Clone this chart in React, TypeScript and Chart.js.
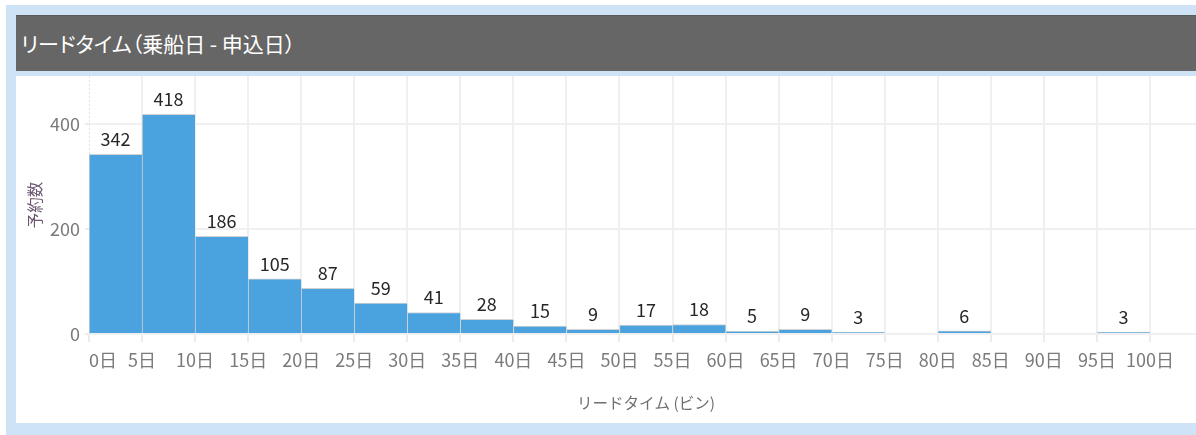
import React, { useEffect, useRef } from 'react';
import { Chart, registerables } from 'chart.js';

Chart.register(...registerables);

// ---- data ----
const binStarts = [0, 5, 10, 15, 20, 25, 30, 35, 40, 45, 50, 55, 60, 65, 70, 75, 80, 85, 90, 95];
const counts: (number | null)[] = [342, 418, 186, 105, 87, 59, 41, 28, 15, 9, 17, 18, 5, 9, 3, null, 6, null, null, 3];
const binWidth = 5;
const xTickValues = [0, 5, 10, 15, 20, 25, 30, 35, 40, 45, 50, 55, 60, 65, 70, 75, 80, 85, 90, 95, 100, 105];
const xTickLabels = ['0日', '5日', '10日', '15日', '20日', '25日', '30日', '35日', '40日', '45日', '50日', '55日', '60日', '65日', '70日', '75日', '80日', '85日', '90日', '95日', '100日', ''];
const yTickValues = [0, 200, 400];
const yMax = 491;
const xMax = 105;
const PANEL_TITLE = 'リードタイム（乗船日 - 申込日）';
const X_TITLE = 'リードタイム (ビン)';
const Y_TITLE = '予約数';

const NUM_FONT = "'Noto Sans CJK JP', sans-serif";
const JP_FONT = "'Noto Sans CJK JP', sans-serif";

const valueLabels = {
  id: 'valueLabels',
  afterDatasetsDraw(chart: any) {
    const { ctx } = chart;
    const meta = chart.getDatasetMeta(0);
    ctx.save();
    ctx.font = `18px ${NUM_FONT}`;
    ctx.fillStyle = '#262626';
    ctx.textAlign = 'center';
    ctx.textBaseline = 'bottom';
    meta.data.forEach((el: any, i: number) => {
      const v = counts[i];
      if (v == null) return;
      ctx.fillText(String(v), el.x, el.y - 6);
    });
    ctx.restore();
  },
};

const axisDecor = {
  id: 'axisDecor',
  beforeDraw(chart: any) {
    const sc = chart.scales.x;
    const items = sc.getLabelItems(chart.chartArea);
    if (items && items[0]) {
      items[0].options.textAlign = 'left';
    }
  },
  beforeDatasetsDraw(chart: any) {
    const { ctx, chartArea } = chart;
    const x0 = Math.round(chart.scales.x.getPixelForValue(0)) + 0.5;
    ctx.save();
    ctx.strokeStyle = '#e2e2e2';
    ctx.lineWidth = 1;
    ctx.setLineDash([2, 2]);
    ctx.beginPath();
    ctx.moveTo(x0, chartArea.top);
    ctx.lineTo(x0, chartArea.bottom);
    ctx.stroke();
    ctx.restore();
  },
};

export default function App() {
  const ref = useRef<HTMLCanvasElement | null>(null);

  useEffect(() => {
    if (!ref.current) return;
    const chart = new Chart(ref.current, {
      type: 'bar',
      data: {
        datasets: [
          {
            label: Y_TITLE,
            data: binStarts.map((s, i) => ({ x: s + binWidth / 2, y: counts[i] })) as any,
            backgroundColor: '#4aa2df',
            borderColor: '#d2d2d2',
            borderWidth: { top: 1, left: 1, right: 0, bottom: 0 } as any,
            borderSkipped: false as any,
            barPercentage: 1,
            categoryPercentage: 1,
          },
        ],
      },
      options: {
        animation: false,
        responsive: true,
        maintainAspectRatio: false,
        layout: { padding: 0 },
        plugins: {
          legend: { display: false },
          tooltip: { enabled: false },
        },
        scales: {
          x: {
            type: 'linear',
            min: 0,
            max: xMax,
            offset: false,
            afterBuildTicks: (scale: any) => {
              scale.ticks = xTickValues.map((v) => ({ value: v }));
            },
            afterFit: (scale: any) => {
              scale.height = 89;
              scale.paddingLeft = 0;
              scale.paddingRight = 0;
            },
            ticks: {
              autoSkip: false,
              maxRotation: 0,
              padding: 7,
              color: '#7a7a7a',
              font: { family: NUM_FONT, size: 18 },
              callback: (v: any) => {
                const i = xTickValues.indexOf(Number(v));
                return i >= 0 ? xTickLabels[i] : '';
              },
            },
            grid: {
              offset: false,
              color: (c: any) => (c.tick && c.tick.value === 0 ? 'rgba(0,0,0,0)' : '#f0f0f0'),
              tickColor: '#ececec',
              lineWidth: 2,
              tickLength: 8,
            },
            border: { display: false },
            title: {
              display: true,
              text: X_TITLE,
              color: '#6f6f6f',
              font: { family: JP_FONT, size: 15.5 },
              padding: { top: 0, bottom: 11 },
            },
          },
          y: {
            type: 'linear',
            min: 0,
            max: yMax,
            afterBuildTicks: (scale: any) => {
              scale.ticks = yTickValues.map((v) => ({ value: v }));
            },
            afterFit: (scale: any) => {
              scale.width = 73;
              scale.paddingTop = 0;
              scale.paddingBottom = 0;
            },
            ticks: {
              padding: 5,
              color: '#7a7a7a',
              font: { family: NUM_FONT, size: 18 },
            },
            grid: {
              color: '#f0f0f0',
              tickColor: '#ececec',
              lineWidth: 2,
              tickLength: 4,
            },
            border: { display: false },
            title: {
              display: true,
              text: Y_TITLE,
              color: '#6a5670',
              font: { family: JP_FONT, size: 15.5 },
              padding: { top: 10, bottom: 0 },
            },
          },
        },
      },
      plugins: [valueLabels, axisDecor],
    });
    return () => chart.destroy();
  }, []);

  return (
    <div
      style={{
        position: 'fixed',
        left: 0,
        top: 0,
        width: 1196,
        height: 435,
        overflow: 'hidden',
        background: '#ffffff',
      }}
    >
      <div
        style={{
          position: 'absolute',
          left: 6,
          top: 5,
          width: 1240,
          height: 460,
          background: '#cfe3f6',
        }}
      />
      <div
        style={{
          position: 'absolute',
          left: 16,
          top: 15,
          width: 1230,
          height: 56,
          boxSizing: 'border-box',
          background: '#666666',
          borderTop: '1px solid #5a5a5a',
          color: '#ffffff',
          fontFamily: JP_FONT,
          fontSize: 21,
          fontFeatureSettings: '"palt"',
          lineHeight: '54px',
          paddingLeft: 5,
          whiteSpace: 'nowrap',
        }}
      >
        {PANEL_TITLE}
      </div>
      <div
        style={{
          position: 'absolute',
          left: 16,
          top: 76,
          width: 1230,
          height: 347,
          background: '#ffffff',
        }}
      >
        <div style={{ position: 'relative', width: 1187, height: 347 }}>
          <canvas ref={ref} />
        </div>
      </div>
    </div>
  );
}
